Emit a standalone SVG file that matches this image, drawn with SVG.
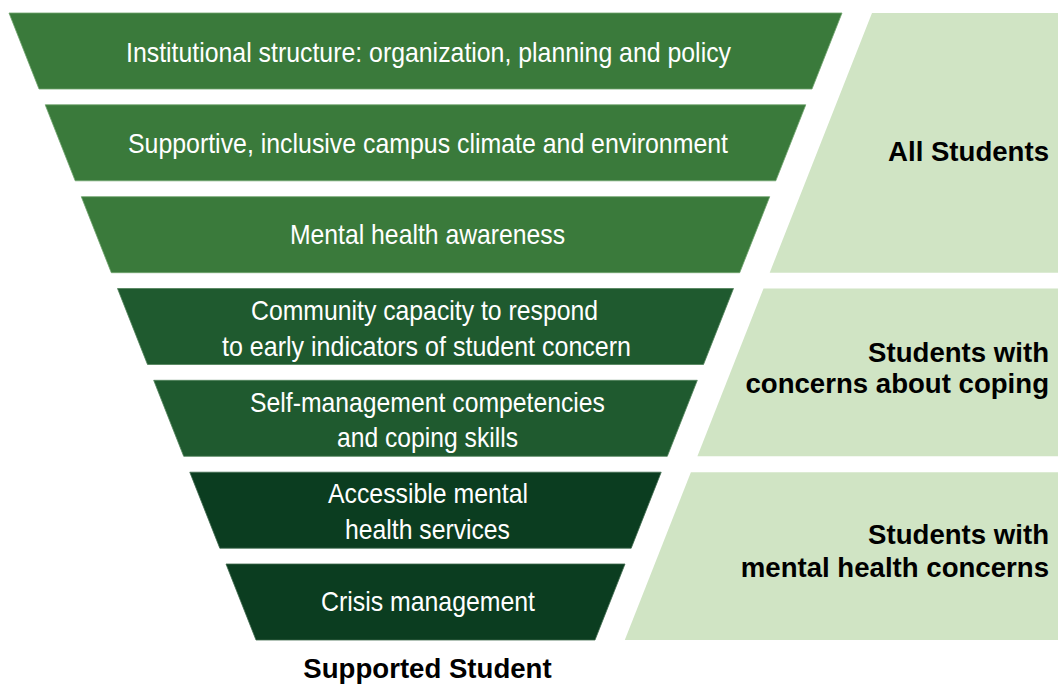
<svg xmlns="http://www.w3.org/2000/svg" width="1058" height="684" viewBox="0 0 1058 684">
<style>
  .t1 { fill: #3a7a3b; stroke: #6fa36c; stroke-width: 0.8; }
  .t2 { fill: #1f5a2f; stroke: #4f8258; stroke-width: 0.8; }
  .t3 { fill: #0b3d20; stroke: #3f6a4c; stroke-width: 0.8; }
  .panel { fill: #d0e4c4; }
  .lbl { font-family: "Liberation Sans", Arial, sans-serif; font-size: 28px; fill: #ffffff; text-anchor: middle; }
  .grp { font-family: "Liberation Sans", Arial, sans-serif; font-size: 27.6px; font-weight: bold; fill: #000000; text-anchor: end; }
  .foot { font-family: "Liberation Sans", Arial, sans-serif; font-size: 27.6px; font-weight: bold; fill: #000000; text-anchor: middle; }
</style>
<rect width="1058" height="684" fill="#ffffff"/>

<g id="panel-all">
  <polygon class="panel" points="872,13 1058,13 1058,272.7 769.7,272.7"/>
  <text class="grp" x="1049" y="161">All Students</text>
</g>
<g id="panel-coping">
  <polygon class="panel" points="763.5,288.5 1058,288.5 1058,456.3 697.4,456.3"/>
  <text class="grp" x="1049" y="361.5">Students with</text>
  <text class="grp" x="1049" y="393">concerns about coping</text>
</g>
<g id="panel-mental">
  <polygon class="panel" points="690.9,472.2 1058,472.2 1058,640 624.8,640"/>
  <text class="grp" x="1049" y="544">Students with</text>
  <text class="grp" x="1049" y="576.5">mental health concerns</text>
</g>

<g id="tier1">
  <polygon class="t1" points="9,13 842,13 812,89 39,89"/>
  <text class="lbl" x="428.5" y="62" textLength="605" lengthAdjust="spacingAndGlyphs">Institutional structure: organization, planning and policy</text>
</g>
<g id="tier2">
  <polygon class="t1" points="45.2,104.8 805.8,104.8 775.8,180.8 75.2,180.8"/>
  <text class="lbl" x="428" y="152.5" textLength="600" lengthAdjust="spacingAndGlyphs">Supportive, inclusive campus climate and environment</text>
</g>
<g id="tier3">
  <polygon class="t1" points="81.3,196.7 769.7,196.7 739.7,272.7 111.3,272.7"/>
  <text class="lbl" x="427.5" y="244.3" textLength="275" lengthAdjust="spacingAndGlyphs">Mental health awareness</text>
</g>
<g id="tier4">
  <polygon class="t2" points="117.5,288.5 733.5,288.5 703.5,364.5 147.5,364.5"/>
  <text class="lbl" x="424.5" y="319.5" textLength="347" lengthAdjust="spacingAndGlyphs">Community capacity to respond</text>
  <text class="lbl" x="426.5" y="355.5" textLength="409" lengthAdjust="spacingAndGlyphs">to early indicators of student concern</text>
</g>
<g id="tier5">
  <polygon class="t2" points="153.7,380.3 697.3,380.3 667.3,456.3 183.7,456.3"/>
  <text class="lbl" x="427.5" y="411.5" textLength="355" lengthAdjust="spacingAndGlyphs">Self-management competencies</text>
  <text class="lbl" x="427.5" y="446.5" textLength="181" lengthAdjust="spacingAndGlyphs">and coping skills</text>
</g>
<g id="tier6">
  <polygon class="t3" points="189.8,472.2 661.2,472.2 631.2,548.2 219.8,548.2"/>
  <text class="lbl" x="428" y="503" textLength="200" lengthAdjust="spacingAndGlyphs">Accessible mental</text>
  <text class="lbl" x="427.5" y="539" textLength="165" lengthAdjust="spacingAndGlyphs">health services</text>
</g>
<g id="tier7">
  <polygon class="t3" points="226,564 625,564 595,640 256,640"/>
  <text class="lbl" x="428" y="611" textLength="214" lengthAdjust="spacingAndGlyphs">Crisis management</text>
</g>

<g id="footer">
  <text class="foot" x="427.5" y="678">Supported Student</text>
</g>
<g id="connectors"></g>
</svg>
